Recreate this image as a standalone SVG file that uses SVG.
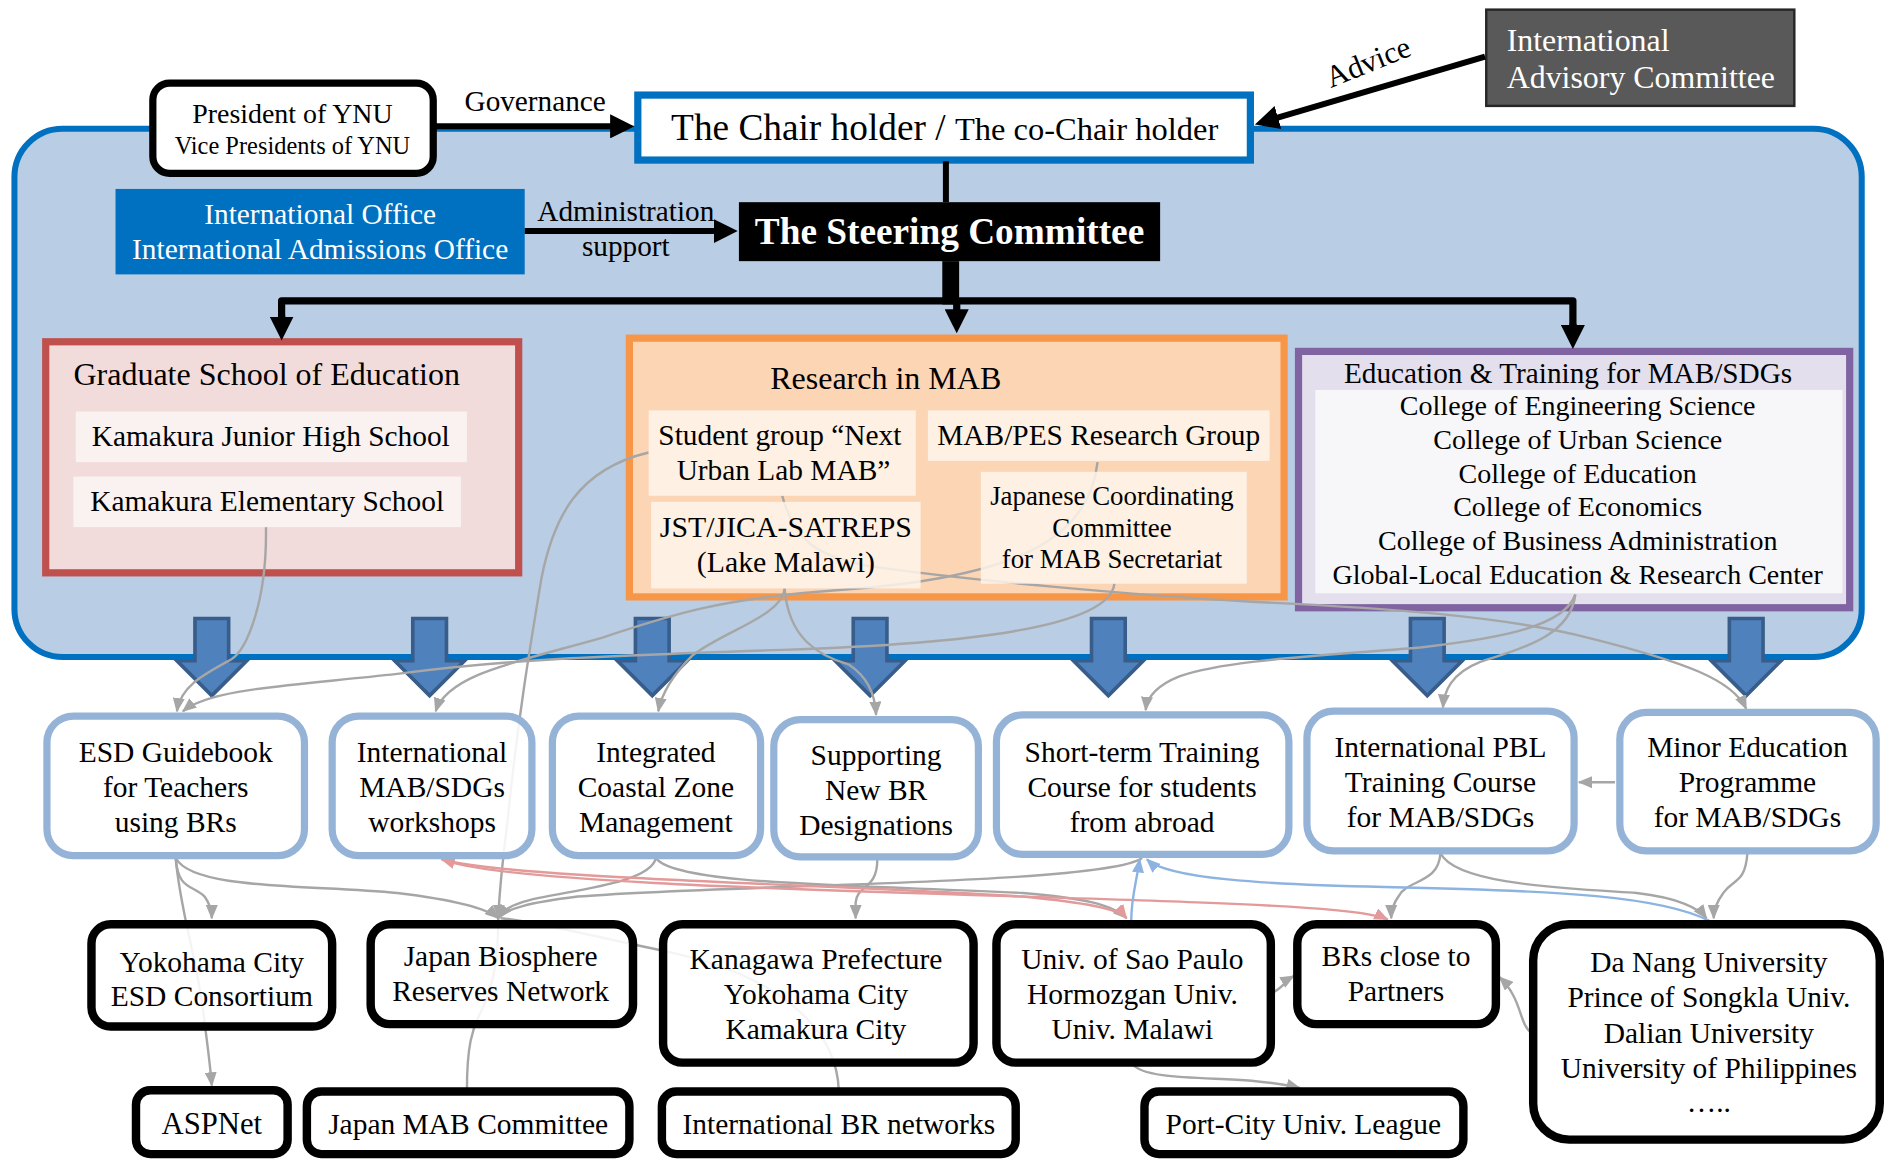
<svg xmlns="http://www.w3.org/2000/svg" width="1887" height="1160" viewBox="0 0 1887 1160">
<style>
text{font-family:"Liberation Serif","Times New Roman",serif;fill:#000}
.c{text-anchor:middle}
.w{fill:#fff}
.b23{font-size:24.5px}
.s24{font-size:24.4px}
.bx{fill:#fff;fill-opacity:0.88;stroke:#95B3D7;stroke-width:6}
.kx{fill:#fff;fill-opacity:0.88;stroke:#000;stroke-width:7}
.g{fill:none;stroke:#A6A6A6;stroke-width:2}
.r{fill:none;stroke:#E39A9A;stroke-width:2}
.bl{fill:none;stroke:#8DB3E2;stroke-width:2}
.k{fill:none;stroke:#000}
</style>
<defs>
<marker id="ahg" viewBox="0 0 12 10" refX="11" refY="5" markerWidth="12" markerHeight="10" markerUnits="userSpaceOnUse" orient="auto"><path d="M0,0 L12,5 L0,10 z" fill="#A6A6A6"/></marker>
<marker id="ahr" viewBox="0 0 12 10" refX="11" refY="5" markerWidth="12" markerHeight="10" markerUnits="userSpaceOnUse" orient="auto-start-reverse"><path d="M0,0 L12,5 L0,10 z" fill="#E39A9A"/></marker>
<marker id="ahb" viewBox="0 0 12 10" refX="11" refY="5" markerWidth="12" markerHeight="10" markerUnits="userSpaceOnUse" orient="auto"><path d="M0,0 L12,5 L0,10 z" fill="#8DB3E2"/></marker>
<marker id="ahk" viewBox="0 0 20 20" refX="1" refY="10" markerWidth="20" markerHeight="20" markerUnits="userSpaceOnUse" orient="auto"><path d="M0,0 L20,10 L0,20 z" fill="#000"/></marker>
<path id="blk" d="M-14,0 L14,0 L14,35 L29,35 L0,64 L-29,35 L-14,35 Z" fill="#4F81BD" stroke="#385D8A" stroke-width="3"/>
</defs>
<g transform="scale(1.20344)">
<g id="container"><rect x="12" y="107" width="1535" height="439" rx="40" fill="#B9CDE5" stroke="#0070C0" stroke-width="5"/></g>
<g id="flow-arrows">
<use href="#blk" x="176" y="514"/><use href="#blk" x="357" y="514"/><use href="#blk" x="542" y="514"/><use href="#blk" x="723" y="514"/><use href="#blk" x="921" y="514"/><use href="#blk" x="1186" y="514"/><use href="#blk" x="1451" y="514"/>
</g>
<g id="president"><rect x="127" y="69" width="233" height="75" rx="14" fill="#fff" stroke="#000" stroke-width="6"/>
<text class="c" x="243" y="102" font-size="23.2">President of YNU</text><text class="c" x="243" y="128" font-size="20.3">Vice Presidents of YNU</text></g>
<g id="chair"><rect x="530" y="79" width="509" height="54" fill="#fff" stroke="#0070C0" stroke-width="6"/>
<text class="c" x="785" y="116"><tspan font-size="31">The Chair holder / </tspan><tspan font-size="27">The co-Chair holder</tspan></text></g>
<g id="advisory"><rect x="1235" y="8" width="256" height="80" fill="#595959" stroke="#262626" stroke-width="2"/>
<text class="w" x="1252" y="42" font-size="26.5">International</text><text class="w" x="1252" y="73" font-size="26.5">Advisory Committee</text></g>
<g id="intl-office"><rect x="96" y="157" width="340" height="71" fill="#0070C0"/>
<text class="c w" x="266" y="186" font-size="24.4">International Office</text><text class="c w" x="266" y="215" font-size="24.4">International Admissions Office</text></g>
<g id="steering"><rect x="614" y="168" width="350" height="49" fill="#000"/>
<text class="c w" x="789" y="203" font-size="31" font-weight="bold">The Steering Committee</text></g>
<g id="graduate"><rect x="38" y="284" width="393" height="192" fill="#F2DCDB" stroke="#C0504D" stroke-width="6"/>
<text x="61" y="320" font-size="26.6">Graduate School of Education</text></g>
<g id="research"><rect x="523" y="281" width="544" height="215" fill="#FCD5B5" stroke="#F79646" stroke-width="6"/>
<text class="c" x="736" y="323" font-size="26.6">Research in MAB</text></g>
<g id="education"><rect x="1079" y="292" width="458" height="213" fill="#E4DFEC" stroke="#8064A2" stroke-width="6"/>
<text class="c" x="1303" y="318" font-size="24.3">Education &amp; Training for MAB/SDGs</text></g>
<g id="connectors">
<path class="k" d="M362,105 L508,105" stroke-width="5" marker-end="url(#ahk)"/>
<path class="k" d="M1234,47 L1061,98" stroke-width="5" marker-end="url(#ahk)"/>
<path class="k" d="M436,192 L594,192" stroke-width="5" marker-end="url(#ahk)"/>
<path class="k" d="M786,134 L786,168" stroke-width="5"/>
<path class="k" d="M790,217 L790,253" stroke-width="14"/>
<path class="k" d="M234,264 L234,250 L1307,250 L1307,271" stroke-width="6" stroke-linejoin="round"/>
<path class="k" d="M234,262 L234,264" stroke-width="6" marker-end="url(#ahk)"/>
<path class="k" d="M1307,269 L1307,271" stroke-width="6" marker-end="url(#ahk)"/>
<path class="k" d="M795,250 L795,258" stroke-width="6" marker-end="url(#ahk)"/>
<text x="386" y="92" font-size="24.3">Governance</text>
<text class="c" x="520" y="184" font-size="24.3">Administration</text>
<text class="c" x="520" y="213" font-size="24.3">support</text>
<text x="1137" y="60" font-size="25.5" text-anchor="middle" transform="rotate(-22 1137 52)">Advice</text>
<path class="g" d="M221,438 C222,500 205,540 192,548 C170,560 150,570 147,591" marker-end="url(#ahg)"/>
<path class="g" d="M926,485 C922,522 800,535 650,540 C500,545 420,548 330,560 C240,570 175,572 152,591" marker-end="url(#ahg)"/>
<path class="g" d="M912,384 C905,450 840,480 700,490 C600,497 560,510 500,530 C430,550 372,560 362,591" marker-end="url(#ahg)"/>
<path class="g" d="M652,489 C650,512 600,525 575,545 C560,560 550,575 547,591" marker-end="url(#ahg)"/>
<path class="g" d="M652,489 C655,530 680,545 705,552 C720,562 727,575 728,594" marker-end="url(#ahg)"/>
<path class="g" d="M650,412 C660,450 680,462 720,470 C800,482 950,495 1040,500 C1150,505 1250,512 1320,530 C1400,550 1440,565 1451,589" marker-end="url(#ahg)"/>
<path class="g" d="M1309,494 C1305,530 1260,540 1230,550 C1205,560 1200,575 1199,588" marker-end="url(#ahg)"/>
<path class="g" d="M1309,494 C1300,520 1250,530 1180,538 C1100,545 1020,548 980,562 C960,570 953,580 952,590" marker-end="url(#ahg)"/>
<path class="g" d="M539,376 C480,390 460,430 450,480 C440,540 430,600 422,680 C417,720 415,740 414,763" marker-end="url(#ahg)"/>
<path class="g" d="M146,713 C148,740 160,735 170,745 C175,752 176,758 176,763" marker-end="url(#ahg)"/>
<path class="g" d="M146,713 C150,760 165,800 170,850 C174,880 175,890 176,902" marker-end="url(#ahg)"/>
<path class="g" d="M146,713 C160,740 260,735 330,742 C380,748 405,755 414,763" marker-end="url(#ahg)"/>
<path class="g" d="M545,713 C540,735 470,740 440,748 C425,752 418,756 414,763" marker-end="url(#ahg)"/>
<path class="g" d="M949,713 C920,735 600,735 480,745 C440,750 420,755 414,763" marker-end="url(#ahg)"/>
<path class="g" d="M545,713 C560,735 700,735 850,742 C900,746 925,752 936,763" marker-end="url(#ahg)"/>
<path class="g" d="M697,906 C695,850 640,810 560,792 C480,775 440,765 416,763"/>
<path class="g" d="M388,906 C388,870 392,855 400,840 C412,815 414,790 414,763"/>
<path class="g" d="M729,714 C729,740 712,735 711,750 L711,763" marker-end="url(#ahg)"/>
<path class="g" d="M1197,709 C1195,735 1170,730 1162,745 C1157,752 1156,758 1156,763" marker-end="url(#ahg)"/>
<path class="g" d="M1197,709 C1210,735 1300,738 1360,742 C1395,746 1412,755 1418,763" marker-end="url(#ahg)"/>
<path class="g" d="M1452,709 C1450,735 1440,730 1432,742 C1426,750 1424,756 1424,763" marker-end="url(#ahg)"/>
<path class="g" d="M1342,650 L1312,650" stroke-width="4" marker-end="url(#ahg)"/>
<path class="g" d="M1057,825 C1065,822 1068,815 1075,811" marker-end="url(#ahg)"/>
<path class="g" d="M1272,858 C1262,850 1265,830 1246,812" marker-end="url(#ahg)"/>
<path class="g" d="M941,884 C950,897 1000,895 1040,898 C1060,900 1072,902 1080,904" marker-end="url(#ahg)"/>
<path class="r" d="M367,714 C420,730 700,735 850,745 C900,750 930,755 936,763" marker-start="url(#ahr)" marker-end="url(#ahr)"/>
<path class="r" d="M367,714 C420,737 800,742 1000,750 C1100,754 1140,758 1153,764" marker-end="url(#ahr)"/>
<path class="bl" d="M940,765 C940,745 945,730 947,714" marker-end="url(#ahb)"/>
<path class="bl" d="M1420,765 C1380,745 1300,740 1150,737 C1050,735 970,730 953,714" marker-end="url(#ahb)"/>
</g>
<g id="kamakura-jhs"><rect x="63" y="342" width="325" height="42" fill="#FBF3F3" fill-opacity="0.92"/><text class="c s24" x="225" y="371">Kamakura Junior High School</text></g>
<g id="kamakura-elem"><rect x="61" y="396" width="322" height="42" fill="#FBF3F3" fill-opacity="0.92"/><text class="c s24" x="222" y="425">Kamakura Elementary School</text></g>
<g id="student-group"><rect x="539" y="341" width="222" height="71" fill="#FEF4EA" fill-opacity="0.85"/><text class="c s24" x="648" y="370">Student group “Next</text><text class="c s24" x="651" y="399">Urban Lab MAB”</text></g>
<g id="mab-pes"><rect x="771" y="341" width="284" height="42" fill="#FEF4EA" fill-opacity="0.85"/><text class="c s24" x="913" y="370">MAB/PES Research Group</text></g>
<g id="jst-jica"><rect x="541" y="417" width="224" height="72" fill="#FEF4EA" fill-opacity="0.85"/><text class="c" x="653" y="446" font-size="24.8">JST/JICA-SATREPS</text><text class="c" x="653" y="475" font-size="24.8">(Lake Malawi)</text></g>
<g id="jcc"><rect x="815" y="392" width="221" height="93" fill="#FEF4EA" fill-opacity="0.85"/><text class="c" x="924" y="420" font-size="22.3">Japanese Coordinating</text><text class="c" x="924" y="446" font-size="22.3">Committee</text><text class="c" x="924" y="472" font-size="22.3">for MAB Secretariat</text></g>
<g id="colleges"><rect x="1093" y="324" width="438" height="169" fill="#F8F8FA" fill-opacity="0.92"/>
<text class="c" x="1311" y="345" font-size="23.3">College of Engineering Science</text>
<text class="c" x="1311" y="373" font-size="23.3">College of Urban Science</text>
<text class="c" x="1311" y="401" font-size="23.3">College of Education</text>
<text class="c" x="1311" y="429" font-size="23.3">College of Economics</text>
<text class="c" x="1311" y="457" font-size="23.3">College of Business Administration</text>
<text class="c" x="1311" y="485" font-size="23.3">Global-Local Education &amp; Research Center</text></g>
<g id="esd-guidebook"><rect class="bx" x="39" y="595" width="214" height="116" rx="22"/><text class="c b23" x="146" y="633">ESD Guidebook</text><text class="c b23" x="146" y="662">for Teachers</text><text class="c b23" x="146" y="691">using BRs</text></g>
<g id="workshops"><rect class="bx" x="276" y="595" width="166" height="116" rx="22"/><text class="c b23" x="359" y="633">International</text><text class="c b23" x="359" y="662">MAB/SDGs</text><text class="c b23" x="359" y="691">workshops</text></g>
<g id="coastal"><rect class="bx" x="459" y="595" width="173" height="116" rx="22"/><text class="c b23" x="545" y="633">Integrated</text><text class="c b23" x="545" y="662">Coastal Zone</text><text class="c b23" x="545" y="691">Management</text></g>
<g id="supporting"><rect class="bx" x="643" y="598" width="170" height="114" rx="22"/><text class="c b23" x="728" y="636">Supporting</text><text class="c b23" x="728" y="665">New BR</text><text class="c b23" x="728" y="694">Designations</text></g>
<g id="short-term"><rect class="bx" x="828" y="594" width="243" height="116" rx="22"/><text class="c b23" x="949" y="633">Short-term Training</text><text class="c b23" x="949" y="662">Course for students</text><text class="c b23" x="949" y="691">from abroad</text></g>
<g id="pbl"><rect class="bx" x="1086" y="591" width="222" height="116" rx="22"/><text class="c b23" x="1197" y="629">International PBL</text><text class="c b23" x="1197" y="658">Training Course</text><text class="c b23" x="1197" y="687">for MAB/SDGs</text></g>
<g id="minor"><rect class="bx" x="1346" y="592" width="213" height="115" rx="22"/><text class="c b23" x="1452" y="629">Minor Education</text><text class="c b23" x="1452" y="658">Programme</text><text class="c b23" x="1452" y="687">for MAB/SDGs</text></g>
<g id="yokohama-esd"><rect class="kx" x="76" y="768" width="200" height="85" rx="16"/><text class="c b23" x="176" y="808">Yokohama City</text><text class="c b23" x="176" y="836">ESD Consortium</text></g>
<g id="jbrn"><rect class="kx" x="308" y="768" width="218" height="83" rx="16"/><text class="c b23" x="416" y="803">Japan Biosphere</text><text class="c b23" x="416" y="832">Reserves Network</text></g>
<g id="kanagawa"><rect class="kx" x="551" y="768" width="258" height="115" rx="16"/><text class="c b23" x="678" y="805">Kanagawa Prefecture</text><text class="c b23" x="678" y="834">Yokohama City</text><text class="c b23" x="678" y="863">Kamakura City</text></g>
<g id="sao-paulo"><rect class="kx" x="828" y="768" width="228" height="115" rx="16"/><text class="c b23" x="941" y="805">Univ. of Sao Paulo</text><text class="c b23" x="941" y="834">Hormozgan Univ.</text><text class="c b23" x="941" y="863">Univ. Malawi</text></g>
<g id="brs-close"><rect class="kx" x="1078" y="768" width="165" height="83" rx="16"/><text class="c b23" x="1160" y="803">BRs close to</text><text class="c b23" x="1160" y="832">Partners</text></g>
<g id="da-nang"><rect class="kx" x="1274" y="768" width="288" height="179" rx="30"/><text class="c b23" x="1420" y="808">Da Nang University</text><text class="c b23" x="1420" y="837">Prince of Songkla Univ.</text><text class="c b23" x="1420" y="867">Dalian University</text><text class="c b23" x="1420" y="896">University of Philippines</text><text class="c b23" x="1420" y="924">…..</text></g>
<g id="aspnet"><rect class="kx" x="113" y="906" width="126" height="53" rx="12"/><text class="c" x="176" y="942" font-size="25.5">ASPNet</text></g>
<g id="japan-mab"><rect class="kx" x="255" y="907" width="268" height="52" rx="12"/><text class="c b23" x="389" y="942">Japan MAB Committee</text></g>
<g id="intl-br"><rect class="kx" x="550" y="907" width="294" height="52" rx="12"/><text class="c b23" x="697" y="942">International BR networks</text></g>
<g id="port-city"><rect class="kx" x="951" y="907" width="265" height="52" rx="12"/><text class="c b23" x="1083" y="942">Port-City Univ. League</text></g>
</g>
</svg>
